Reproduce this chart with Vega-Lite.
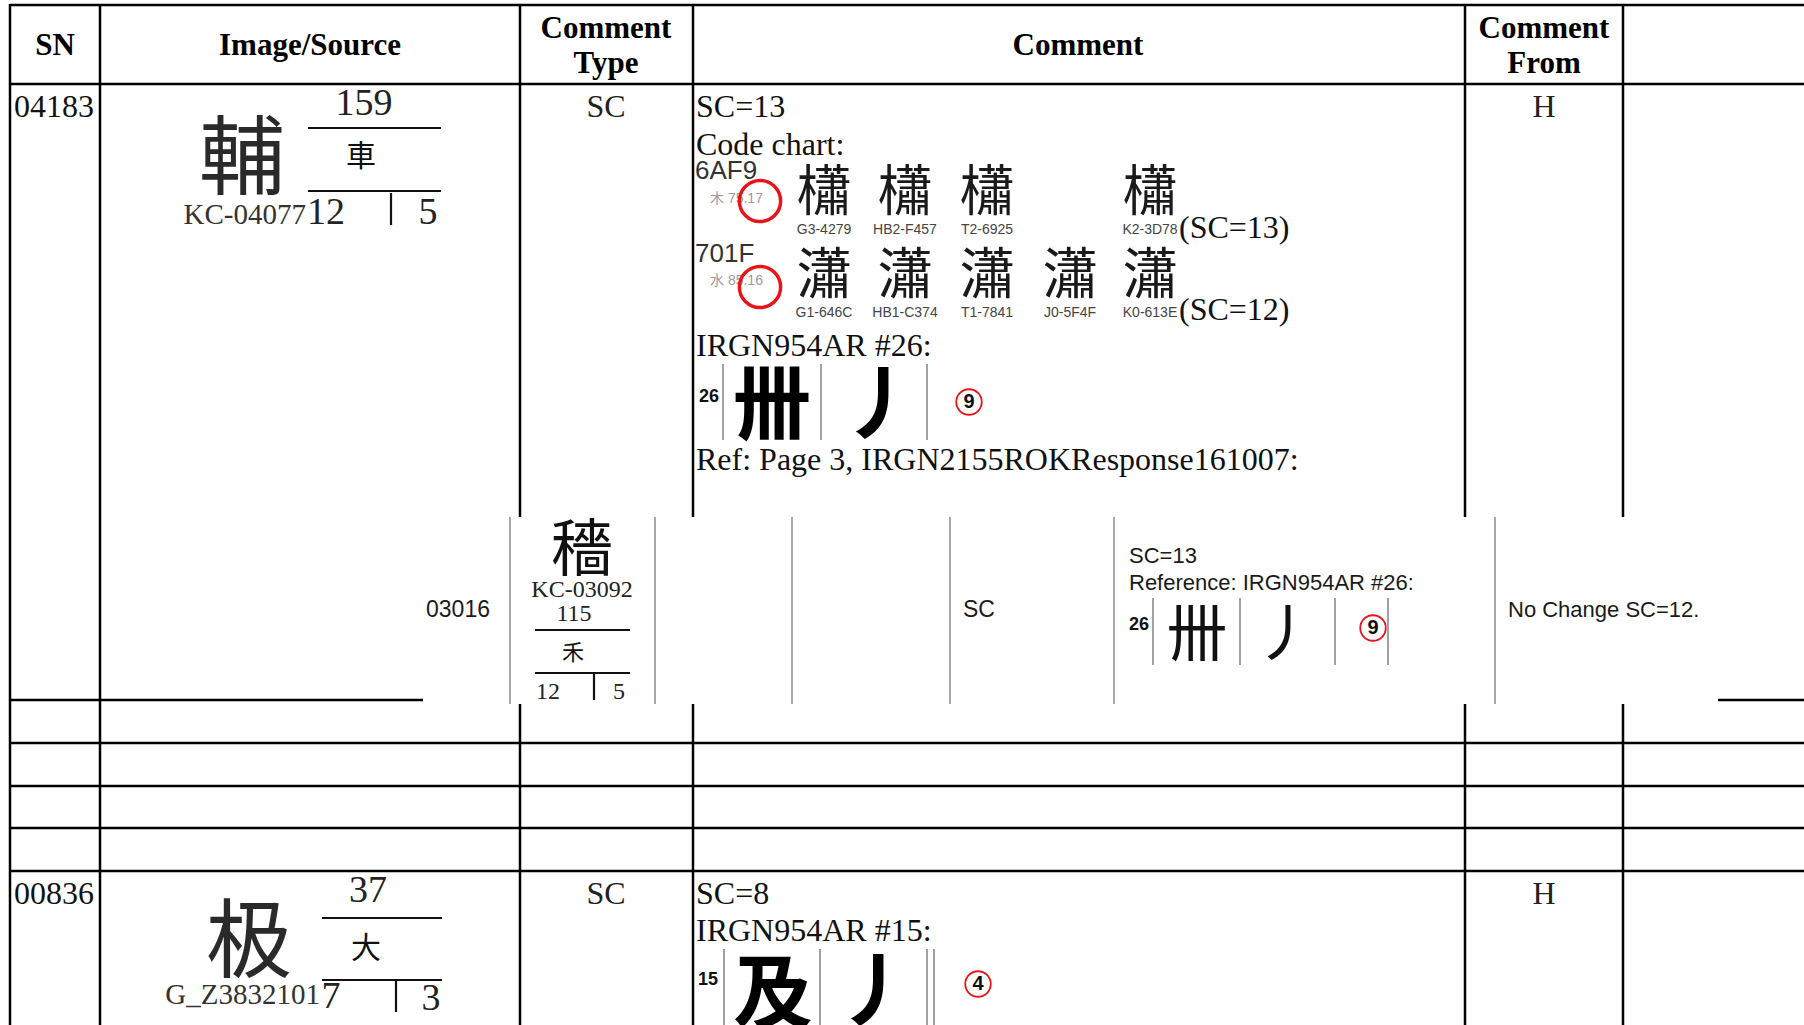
{
  "$schema": "https://vega.github.io/schema/vega-lite/v6.json",
  "width": 1804,
  "height": 1025,
  "padding": 0,
  "autosize": {"type": "none"},
  "background": "#ffffff",
  "config": {"view": {"stroke": null}, "axis": {"disable": true}, "legend": {"disable": true}},
  "datasets": {
    "grid": [
      {"x1": 10, "x2": 1804, "y1": 5, "y2": 5},
      {"x1": 10, "x2": 1804, "y1": 84, "y2": 84},
      {"x1": 10, "x2": 423, "y1": 700, "y2": 700},
      {"x1": 1718, "x2": 1804, "y1": 700, "y2": 700},
      {"x1": 10, "x2": 1804, "y1": 743, "y2": 743},
      {"x1": 10, "x2": 1804, "y1": 786, "y2": 786},
      {"x1": 10, "x2": 1804, "y1": 828, "y2": 828},
      {"x1": 10, "x2": 1804, "y1": 871, "y2": 871},
      {"x1": 10, "x2": 10, "y1": 4, "y2": 1025},
      {"x1": 100, "x2": 100, "y1": 4, "y2": 1025},
      {"x1": 520, "x2": 520, "y1": 4, "y2": 517},
      {"x1": 520, "x2": 520, "y1": 704, "y2": 1025},
      {"x1": 693, "x2": 693, "y1": 4, "y2": 517},
      {"x1": 693, "x2": 693, "y1": 704, "y2": 1025},
      {"x1": 1465, "x2": 1465, "y1": 4, "y2": 517},
      {"x1": 1465, "x2": 1465, "y1": 704, "y2": 1025},
      {"x1": 1623, "x2": 1623, "y1": 4, "y2": 517},
      {"x1": 1623, "x2": 1623, "y1": 704, "y2": 1025}
    ],
    "subgrid": [
      {"x1": 510, "x2": 510, "y1": 517, "y2": 704},
      {"x1": 655, "x2": 655, "y1": 517, "y2": 704},
      {"x1": 792, "x2": 792, "y1": 517, "y2": 704},
      {"x1": 950, "x2": 950, "y1": 517, "y2": 704},
      {"x1": 1114, "x2": 1114, "y1": 517, "y2": 704},
      {"x1": 1495, "x2": 1495, "y1": 517, "y2": 704}
    ],
    "boxlines": [
      {"x1": 308, "x2": 441, "y1": 128, "y2": 128},
      {"x1": 308, "x2": 441, "y1": 191, "y2": 191},
      {"x1": 391, "x2": 391, "y1": 193, "y2": 225},
      {"x1": 535, "x2": 630, "y1": 630, "y2": 630},
      {"x1": 535, "x2": 630, "y1": 673, "y2": 673},
      {"x1": 594, "x2": 594, "y1": 673, "y2": 700},
      {"x1": 322, "x2": 442, "y1": 918, "y2": 918},
      {"x1": 322, "x2": 442, "y1": 980, "y2": 980},
      {"x1": 396, "x2": 396, "y1": 980, "y2": 1012}
    ],
    "bars": [
      {"x1": 723, "x2": 723, "y1": 364, "y2": 440},
      {"x1": 821, "x2": 821, "y1": 364, "y2": 440},
      {"x1": 927, "x2": 927, "y1": 364, "y2": 440},
      {"x1": 1153, "x2": 1153, "y1": 598, "y2": 665},
      {"x1": 1240, "x2": 1240, "y1": 598, "y2": 665},
      {"x1": 1335, "x2": 1335, "y1": 598, "y2": 665},
      {"x1": 1388, "x2": 1388, "y1": 598, "y2": 665},
      {"x1": 724, "x2": 724, "y1": 949, "y2": 1025},
      {"x1": 820, "x2": 820, "y1": 949, "y2": 1025},
      {"x1": 927, "x2": 927, "y1": 949, "y2": 1025},
      {"x1": 934, "x2": 934, "y1": 949, "y2": 1025}
    ],
    "header": [
      {"t": "SN", "x": 55, "y": 46},
      {"t": "Image/Source", "x": 310, "y": 46},
      {"t": "Comment", "x": 606, "y": 29},
      {"t": "Type", "x": 606, "y": 64},
      {"t": "Comment", "x": 1078, "y": 46},
      {"t": "Comment", "x": 1544, "y": 29},
      {"t": "From", "x": 1544, "y": 64}
    ],
    "bodyL": [
      {"t": "04183", "x": 14, "y": 107},
      {"t": "SC=13", "x": 696, "y": 107},
      {"t": "Code chart:", "x": 696, "y": 145},
      {"t": "(SC=13)", "x": 1179, "y": 228},
      {"t": "(SC=12)", "x": 1179, "y": 310},
      {"t": "IRGN954AR #26:", "x": 696, "y": 346},
      {"t": "Ref: Page 3, IRGN2155ROKResponse161007:", "x": 696, "y": 460},
      {"t": "00836", "x": 14, "y": 894},
      {"t": "SC=8", "x": 696, "y": 894},
      {"t": "IRGN954AR #15:", "x": 696, "y": 931}
    ],
    "bodyC": [
      {"t": "SC", "x": 606, "y": 107},
      {"t": "H", "x": 1544, "y": 107},
      {"t": "SC", "x": 606, "y": 894},
      {"t": "H", "x": 1544, "y": 894}
    ],
    "bigHan": [
      {"t": "輔", "x": 242, "y": 162},
      {"t": "极", "x": 249, "y": 945}
    ],
    "chartHan": [
      {"t": "櫹", "x": 824, "y": 193},
      {"t": "櫹", "x": 905, "y": 193},
      {"t": "櫹", "x": 987, "y": 193},
      {"t": "櫹", "x": 1150, "y": 193},
      {"t": "瀟", "x": 824, "y": 276},
      {"t": "瀟", "x": 905, "y": 276},
      {"t": "瀟", "x": 987, "y": 276},
      {"t": "瀟", "x": 1070, "y": 276},
      {"t": "瀟", "x": 1150, "y": 276}
    ],
    "chartLabels": [
      {"t": "G3-4279", "x": 824, "y": 230},
      {"t": "HB2-F457", "x": 905, "y": 230},
      {"t": "T2-6925", "x": 987, "y": 230},
      {"t": "K2-3D78", "x": 1150, "y": 230},
      {"t": "G1-646C", "x": 824, "y": 313},
      {"t": "HB1-C374", "x": 905, "y": 313},
      {"t": "T1-7841", "x": 987, "y": 313},
      {"t": "J0-5F4F", "x": 1070, "y": 313},
      {"t": "K0-613E", "x": 1150, "y": 313}
    ],
    "codes": [
      {"t": "6AF9", "x": 695, "y": 171},
      {"t": "701F", "x": 695, "y": 254}
    ],
    "radInfo": [
      {"t": "木 75.17", "x": 710, "y": 199},
      {"t": "水 85.16", "x": 710, "y": 281}
    ],
    "bigCircles": [
      {"x": 760, "y": 201},
      {"x": 760, "y": 287}
    ],
    "figHan": [
      {"t": "卌", "x": 772, "y": 408},
      {"t": "丿", "x": 880, "y": 408},
      {"t": "及", "x": 773, "y": 997},
      {"t": "丿", "x": 875, "y": 995}
    ],
    "figHanSmall": [
      {"t": "卌", "x": 1197, "y": 637},
      {"t": "丿", "x": 1285, "y": 637},
      {"t": "穡", "x": 582, "y": 552}
    ],
    "figNums": [
      {"t": "26", "x": 709, "y": 397},
      {"t": "26", "x": 1139, "y": 625},
      {"t": "15", "x": 708, "y": 980}
    ],
    "smallCircles": [
      {"x": 969, "y": 402},
      {"x": 1373, "y": 628},
      {"x": 978, "y": 984}
    ],
    "circNums": [
      {"t": "9", "x": 969, "y": 402},
      {"t": "9", "x": 1373, "y": 628},
      {"t": "4", "x": 978, "y": 984}
    ],
    "boxNums": [
      {"t": "159", "x": 364, "y": 104},
      {"t": "12", "x": 326, "y": 213},
      {"t": "5", "x": 428, "y": 213},
      {"t": "37", "x": 368, "y": 891},
      {"t": "7", "x": 331, "y": 997},
      {"t": "3", "x": 431, "y": 999}
    ],
    "boxRad": [
      {"t": "車", "x": 361, "y": 157},
      {"t": "大", "x": 366, "y": 949}
    ],
    "srcLabels": [
      {"t": "KC-04077", "x": 306, "y": 215},
      {"t": "G_Z3832101", "x": 320, "y": 995}
    ],
    "subSerif": [
      {"t": "KC-03092", "x": 582, "y": 590},
      {"t": "115", "x": 574, "y": 614},
      {"t": "12", "x": 548, "y": 692},
      {"t": "5", "x": 619, "y": 692}
    ],
    "subRad": [
      {"t": "禾", "x": 573, "y": 653}
    ],
    "sansC": [
      {"t": "03016", "x": 458, "y": 610},
      {"t": "SC", "x": 979, "y": 610}
    ],
    "sansL": [
      {"t": "SC=13", "x": 1129, "y": 556},
      {"t": "Reference: IRGN954AR #26:", "x": 1129, "y": 583},
      {"t": "No Change SC=12.", "x": 1508, "y": 610}
    ]
  },
  "layer": [
    {
      "data": {"name": "grid"},
      "mark": {"type": "rule", "color": "#000000", "strokeWidth": 2.5},
      "encoding": {
        "x": {"field": "x1", "type": "quantitative", "scale": {"domain": [0, 1804], "nice": false, "zero": false}},
        "x2": {"field": "x2"},
        "y": {"field": "y1", "type": "quantitative", "scale": {"domain": [0, 1025], "reverse": true, "nice": false, "zero": false}},
        "y2": {"field": "y2"}
      }
    },
    {
      "data": {"name": "subgrid"},
      "mark": {"type": "rule", "color": "#7a7a7a", "strokeWidth": 1.3},
      "encoding": {
        "x": {"field": "x1", "type": "quantitative"},
        "x2": {"field": "x2"},
        "y": {"field": "y1", "type": "quantitative"},
        "y2": {"field": "y2"}
      }
    },
    {
      "data": {"name": "boxlines"},
      "mark": {"type": "rule", "color": "#111111", "strokeWidth": 2.2},
      "encoding": {
        "x": {"field": "x1", "type": "quantitative"},
        "x2": {"field": "x2"},
        "y": {"field": "y1", "type": "quantitative"},
        "y2": {"field": "y2"}
      }
    },
    {
      "data": {"name": "bars"},
      "mark": {"type": "rule", "color": "#8a8a8a", "strokeWidth": 1.6},
      "encoding": {
        "x": {"field": "x1", "type": "quantitative"},
        "x2": {"field": "x2"},
        "y": {"field": "y1", "type": "quantitative"},
        "y2": {"field": "y2"}
      }
    },
    {
      "data": {"name": "header"},
      "mark": {"type": "text", "font": "Liberation Serif", "fontWeight": "bold", "fontSize": 31, "align": "center", "baseline": "middle", "color": "#000000"},
      "encoding": {"x": {"field": "x", "type": "quantitative"}, "y": {"field": "y", "type": "quantitative"}, "text": {"field": "t"}}
    },
    {
      "data": {"name": "bodyL"},
      "mark": {"type": "text", "font": "Liberation Serif", "fontSize": 32, "align": "left", "baseline": "middle", "color": "#111111"},
      "encoding": {"x": {"field": "x", "type": "quantitative"}, "y": {"field": "y", "type": "quantitative"}, "text": {"field": "t"}}
    },
    {
      "data": {"name": "bodyC"},
      "mark": {"type": "text", "font": "Liberation Serif", "fontSize": 32, "align": "center", "baseline": "middle", "color": "#222222"},
      "encoding": {"x": {"field": "x", "type": "quantitative"}, "y": {"field": "y", "type": "quantitative"}, "text": {"field": "t"}}
    },
    {
      "data": {"name": "bigHan"},
      "mark": {"type": "text", "font": "Noto Sans CJK TC", "fontSize": 86, "align": "center", "baseline": "middle", "color": "#2a2a2a"},
      "encoding": {"x": {"field": "x", "type": "quantitative"}, "y": {"field": "y", "type": "quantitative"}, "text": {"field": "t"}}
    },
    {
      "data": {"name": "chartHan"},
      "mark": {"type": "text", "font": "Noto Sans CJK TC", "fontSize": 55, "align": "center", "baseline": "middle", "color": "#1a1a1a"},
      "encoding": {"x": {"field": "x", "type": "quantitative"}, "y": {"field": "y", "type": "quantitative"}, "text": {"field": "t"}}
    },
    {
      "data": {"name": "chartLabels"},
      "mark": {"type": "text", "font": "Liberation Sans Narrow, Liberation Sans", "fontSize": 14, "align": "center", "baseline": "middle", "color": "#444444"},
      "encoding": {"x": {"field": "x", "type": "quantitative"}, "y": {"field": "y", "type": "quantitative"}, "text": {"field": "t"}}
    },
    {
      "data": {"name": "codes"},
      "mark": {"type": "text", "font": "Liberation Sans", "fontSize": 26, "align": "left", "baseline": "middle", "color": "#333333"},
      "encoding": {"x": {"field": "x", "type": "quantitative"}, "y": {"field": "y", "type": "quantitative"}, "text": {"field": "t"}}
    },
    {
      "data": {"name": "radInfo"},
      "mark": {"type": "text", "font": "Liberation Sans, Noto Sans CJK TC", "fontSize": 14, "align": "left", "baseline": "middle", "color": "#9a9a9a"},
      "encoding": {"x": {"field": "x", "type": "quantitative"}, "y": {"field": "y", "type": "quantitative"}, "text": {"field": "t"}}
    },
    {
      "data": {"name": "bigCircles"},
      "mark": {"type": "point", "shape": "circle", "filled": false, "stroke": "#e8141a", "strokeWidth": 3.5, "size": 1700, "opacity": 1},
      "encoding": {"x": {"field": "x", "type": "quantitative"}, "y": {"field": "y", "type": "quantitative"}}
    },
    {
      "data": {"name": "figHan"},
      "mark": {"type": "text", "font": "Noto Sans CJK TC", "fontWeight": "bold", "fontSize": 80, "align": "center", "baseline": "middle", "color": "#000000"},
      "encoding": {"x": {"field": "x", "type": "quantitative"}, "y": {"field": "y", "type": "quantitative"}, "text": {"field": "t"}}
    },
    {
      "data": {"name": "figHanSmall"},
      "mark": {"type": "text", "font": "Noto Sans CJK TC", "fontSize": 62, "align": "center", "baseline": "middle", "color": "#111111"},
      "encoding": {"x": {"field": "x", "type": "quantitative"}, "y": {"field": "y", "type": "quantitative"}, "text": {"field": "t"}}
    },
    {
      "data": {"name": "figNums"},
      "mark": {"type": "text", "font": "Liberation Sans", "fontWeight": "bold", "fontSize": 18, "align": "center", "baseline": "middle", "color": "#111111"},
      "encoding": {"x": {"field": "x", "type": "quantitative"}, "y": {"field": "y", "type": "quantitative"}, "text": {"field": "t"}}
    },
    {
      "data": {"name": "smallCircles"},
      "mark": {"type": "point", "shape": "circle", "filled": false, "stroke": "#e8141a", "strokeWidth": 1.8, "size": 650, "opacity": 1},
      "encoding": {"x": {"field": "x", "type": "quantitative"}, "y": {"field": "y", "type": "quantitative"}}
    },
    {
      "data": {"name": "circNums"},
      "mark": {"type": "text", "font": "Liberation Sans", "fontWeight": "bold", "fontSize": 20, "align": "center", "baseline": "middle", "color": "#111111"},
      "encoding": {"x": {"field": "x", "type": "quantitative"}, "y": {"field": "y", "type": "quantitative"}, "text": {"field": "t"}}
    },
    {
      "data": {"name": "boxNums"},
      "mark": {"type": "text", "font": "Liberation Serif", "fontSize": 38, "align": "center", "baseline": "middle", "color": "#222222"},
      "encoding": {"x": {"field": "x", "type": "quantitative"}, "y": {"field": "y", "type": "quantitative"}, "text": {"field": "t"}}
    },
    {
      "data": {"name": "boxRad"},
      "mark": {"type": "text", "font": "Noto Sans CJK TC", "fontSize": 30, "align": "center", "baseline": "middle", "color": "#111111"},
      "encoding": {"x": {"field": "x", "type": "quantitative"}, "y": {"field": "y", "type": "quantitative"}, "text": {"field": "t"}}
    },
    {
      "data": {"name": "srcLabels"},
      "mark": {"type": "text", "font": "Liberation Serif", "fontSize": 29, "align": "right", "baseline": "middle", "color": "#333333"},
      "encoding": {"x": {"field": "x", "type": "quantitative"}, "y": {"field": "y", "type": "quantitative"}, "text": {"field": "t"}}
    },
    {
      "data": {"name": "subSerif"},
      "mark": {"type": "text", "font": "Liberation Serif", "fontSize": 24, "align": "center", "baseline": "middle", "color": "#222222"},
      "encoding": {"x": {"field": "x", "type": "quantitative"}, "y": {"field": "y", "type": "quantitative"}, "text": {"field": "t"}}
    },
    {
      "data": {"name": "subRad"},
      "mark": {"type": "text", "font": "Noto Sans CJK TC", "fontSize": 22, "align": "center", "baseline": "middle", "color": "#111111"},
      "encoding": {"x": {"field": "x", "type": "quantitative"}, "y": {"field": "y", "type": "quantitative"}, "text": {"field": "t"}}
    },
    {
      "data": {"name": "sansC"},
      "mark": {"type": "text", "font": "Liberation Sans", "fontSize": 23, "align": "center", "baseline": "middle", "color": "#1a1a1a"},
      "encoding": {"x": {"field": "x", "type": "quantitative"}, "y": {"field": "y", "type": "quantitative"}, "text": {"field": "t"}}
    },
    {
      "data": {"name": "sansL"},
      "mark": {"type": "text", "font": "Liberation Sans", "fontSize": 22, "align": "left", "baseline": "middle", "color": "#1a1a1a"},
      "encoding": {"x": {"field": "x", "type": "quantitative"}, "y": {"field": "y", "type": "quantitative"}, "text": {"field": "t"}}
    }
  ]
}
